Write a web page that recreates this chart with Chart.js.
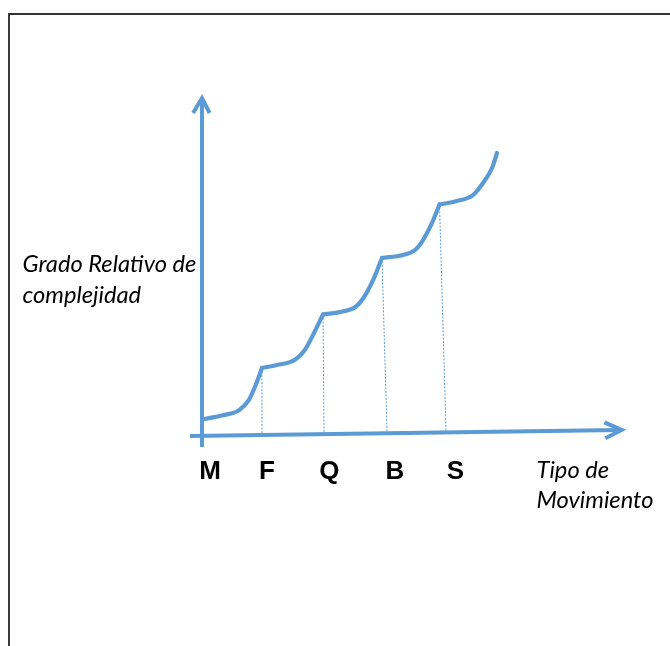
<!DOCTYPE html>
<html>
<head>
<meta charset="utf-8">
<script src="https://cdn.jsdelivr.net/npm/chart.js@4"></script>
<style>
  html, body { margin: 0; padding: 0; background: #ffffff; }
  #wrap { position: relative; width: 670px; height: 646px; overflow: hidden; }
  #frame { position: absolute; left: 8px; top: 13px; width: 700px; height: 700px;
           border-top: 2px solid #333; border-left: 2px solid #3a3a3a; pointer-events: none; }
  canvas { position: absolute; left: 0; top: 0; }
</style>
</head>
<body>
<div id="wrap">
  <canvas id="c" width="670" height="646"></canvas>
  <div id="frame"></div>
</div>
<script>
// ---- categories (tipo de movimiento) and label positions on the x scale ----
const categories = ['M', 'F', 'Q', 'B', 'S'];
const categoryLabelX = [0.117, 1.067, 2.105, 3.2, 4.205];
const categoryLabelY = -0.815;

// ---- complexity curve, one piece per step (x = tipo de movimiento, y = grado relativo) ----
const seg1X = [0.017, 0.333, 0.6, 0.76, 0.88, 0.983];
const seg1Y = [0.296, 0.365, 0.46, 0.64, 0.93, 1.241];
const seg2X = [0.983, 1.233, 1.54, 1.70, 1.85, 2.0];
const seg2Y = [1.241, 1.296, 1.40, 1.58, 1.89, 2.232];
const seg3X = [2.0, 2.33, 2.55, 2.69, 2.84, 2.983];
const seg3Y = [2.232, 2.287, 2.38, 2.565, 2.88, 3.278];
const seg4X = [2.983, 3.333, 3.533, 3.667, 3.817, 3.942];
const seg4Y = [3.278, 3.333, 3.426, 3.611, 3.926, 4.268];
const seg5X = [3.942, 4.233, 4.5, 4.667, 4.817, 4.9];
const seg5Y = [4.268, 4.333, 4.444, 4.667, 4.944, 5.222];
const segmentsX = [seg1X, seg2X, seg3X, seg4X, seg5X];
const segmentsY = [seg1Y, seg2Y, seg3Y, seg4Y, seg5Y];

// ---- dotted drop lines from each step down to the axis ----
const dropTopX  = [0.983, 2.0, 2.983, 3.942];
const dropTopY  = [1.241, 2.232, 3.278, 4.268];
const dropBaseX = [0.983, 2.017, 3.067, 4.05];
const dropBaseY = [0.018, 0.037, 0.056, 0.074];

// ---- drawn axes (with arrow heads) ----
const yAxisX = [-0.017, -0.017];
const yAxisY = [-0.222, 6.2];
const yArrowX = [-0.165, -0.017, 0.11];
const yArrowY = [5.963, 6.24, 5.963];
const xAxisX = [-0.217, 6.94];
const xAxisY = [-0.0185, 0.093];
const xArrowX = [6.69, 6.978, 6.705];
const xArrowY = [0.235, 0.093, -0.061];

// ---- scale window ----
const xMin = -3.3833, xMax = 7.7833;
const yMin = -3.9074, yMax = 8.0556;

const BLUE = '#5B9BD5';
const pts = (xs, ys) => xs.map((x, i) => ({ x: x, y: ys[i] }));

const datasets = [];
dropTopX.forEach((x, i) => {
  datasets.push({
    data: [{ x: x, y: dropTopY[i] }, { x: dropBaseX[i], y: dropBaseY[i] }],
    borderColor: BLUE, borderWidth: 1, borderDash: [2, 1.5],
    pointRadius: 0, showLine: true, tension: 0
  });
});
segmentsX.forEach((xs, i) => {
  datasets.push({
    data: pts(xs, segmentsY[i]),
    borderColor: BLUE, borderWidth: 4.2, pointRadius: 0, showLine: true,
    cubicInterpolationMode: 'monotone', borderCapStyle: 'round', borderJoinStyle: 'round'
  });
});
[[yAxisX, yAxisY], [xAxisX, xAxisY]].forEach(([xs, ys]) => {
  datasets.push({
    data: pts(xs, ys), borderColor: BLUE, borderWidth: 4, pointRadius: 0,
    showLine: true, tension: 0, borderCapStyle: 'butt'
  });
});
[[yArrowX, yArrowY], [xArrowX, xArrowY]].forEach(([xs, ys]) => {
  datasets.push({
    data: pts(xs, ys), borderColor: BLUE, borderWidth: 4, pointRadius: 0,
    showLine: true, tension: 0, borderCapStyle: 'butt', borderJoinStyle: 'miter'
  });
});

function fitSize(ctx, text, target, style, family) {
  ctx.font = style + ' 100px ' + family;
  const w = ctx.measureText(text).width;
  return 100 * target / w;
}

const textPlugin = {
  id: 'texts',
  afterDatasetsDraw(chart) {
    const ctx = chart.ctx;
    const xs = chart.scales.x, ys = chart.scales.y;
    ctx.save();
    ctx.fillStyle = '#000';
    ctx.textAlign = 'center';
    ctx.textBaseline = 'alphabetic';
    ctx.font = 'bold 26px "Liberation Sans", Arial, sans-serif';
    categories.forEach((c, i) => {
      ctx.fillText(c, xs.getPixelForValue(categoryLabelX[i]), ys.getPixelForValue(categoryLabelY));
    });
    const fam = 'Lato, "Open Sans", sans-serif';
    const size = fitSize(ctx, 'Grado Relativo de', 174, 'italic', fam);
    ctx.font = 'italic ' + size.toFixed(2) + 'px ' + fam;
    ctx.textAlign = 'left';
    ctx.fillText('Grado Relativo de', 22.5, 271.5);
    ctx.fillText('complejidad', 22.5, 303);
    ctx.fillText('Tipo de', 536.5, 477.5);
    ctx.fillText('Movimiento', 536.5, 508);
    ctx.restore();
  }
};

new Chart(document.getElementById('c'), {
  type: 'scatter',
  data: { datasets: datasets },
  options: {
    responsive: false,
    animation: false,
    devicePixelRatio: 1,
    layout: { padding: 0, autoPadding: false },
    plugins: { legend: { display: false }, tooltip: { enabled: false } },
    scales: {
      x: { type: 'linear', min: xMin, max: xMax, display: false },
      y: { type: 'linear', min: yMin, max: yMax, display: false }
    }
  },
  plugins: [textPlugin]
});
</script>
</body>
</html>
